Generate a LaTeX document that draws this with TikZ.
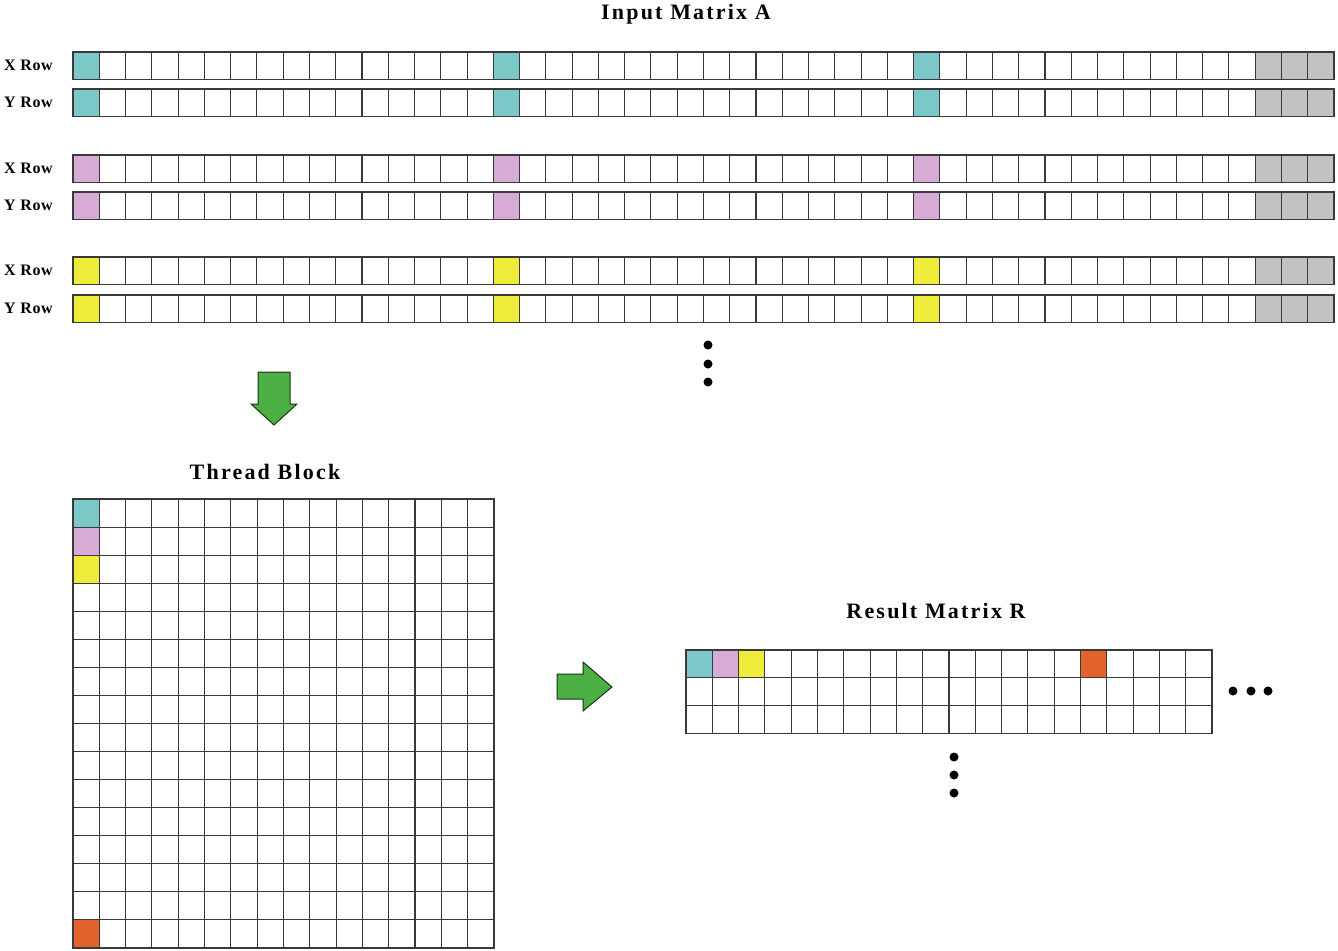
\documentclass[tikz,border=0pt]{standalone}
\usepackage{fontspec}
\setmainfont{Liberation Serif}
\definecolor{cteal}{HTML}{7CC8C8}
\definecolor{cpink}{HTML}{D8AAD6}
\definecolor{cyel}{HTML}{F0EC3C}
\definecolor{cgray}{HTML}{C2C2C4}
\definecolor{corange}{HTML}{E2622C}
\definecolor{cgreen}{HTML}{4CAF44}
\definecolor{cline}{HTML}{3A3A3A}
\tikzset{
  cell/.style={draw=cline, line width=1.1pt},
  title/.style={font=\fontsize{22}{24}\selectfont\bfseries\addfontfeatures{LetterSpace=10}},
  rowlab/.style={font=\fontsize{16}{18}\selectfont\bfseries\addfontfeatures{LetterSpace=4}, anchor=east, inner sep=0pt},
  bigarrow/.style={fill=cgreen, draw=black!70!cgreen, line width=1pt, line join=miter},
  dot/.style={fill=black}
}
\begin{document}
\begin{tikzpicture}[x=1pt,y=-1pt]
\useasboundingbox (0,0) rectangle (1338,950);
% ---- Input matrix rows
\def\cw{26.27}
\foreach \top/\lab/\c in {52/X/cteal,89/Y/cteal,155/X/cpink,192/Y/cpink,257/X/cyel,295/Y/cyel}{
  \foreach \i in {0,...,47}{
    \pgfmathsetmacro{\xa}{73+\i*\cw}
    \pgfmathsetmacro{\xb}{73+(\i+1)*\cw}
    \ifnum\i=0 \def\fc{\c}\else\ifnum\i=16 \def\fc{\c}\else\ifnum\i=32 \def\fc{\c}\else\ifnum\i>44 \def\fc{cgray}\else\def\fc{white}\fi\fi\fi\fi
    \draw[cell, fill=\fc] (\xa,\top) rectangle (\xb,\top+27.5);
  }
  \node[rowlab] at (53,\top+13) {\lab\ Row};
}
\node[title] (tA) at (686,14) {Input Matrix A};
% vertical dots
\fill[dot] (708,345) circle (4.5) (708,364) circle (4.5) (708,382) circle (4.5);
% down arrow
\draw[bigarrow] (258,372) -- (290,372) -- (290,404) -- (297,404) -- (274,425) -- (251,404) -- (258,404) -- cycle;
% ---- Thread block
\node[title] (tB) at (265,472) {Thread Block};
\foreach \r in {0,...,15}{
  \foreach \i in {0,...,15}{
    \pgfmathsetmacro{\xa}{73+\i*26.31}
    \pgfmathsetmacro{\ya}{499+\r*28.06}
    \def\fc{white}
    \ifnum\i=0
      \ifnum\r=0 \def\fc{cteal}\fi
      \ifnum\r=1 \def\fc{cpink}\fi
      \ifnum\r=2 \def\fc{cyel}\fi
      \ifnum\r=15 \def\fc{corange}\fi
    \fi
    \draw[cell, fill=\fc] (\xa,\ya) rectangle ++(26.31,28.06);
  }
}
% right arrow
\draw[bigarrow] (557,674) -- (583,674) -- (583,662) -- (612,687) -- (583,711) -- (583,699) -- (557,699) -- cycle;
% ---- Result matrix
\node[title] (tR) at (936,611) {Result Matrix R};
\foreach \r in {0,...,2}{
  \foreach \i in {0,...,19}{
    \pgfmathsetmacro{\xa}{686+\i*26.3}
    \pgfmathsetmacro{\ya}{650+\r*27.7}
    \def\fc{white}
    \ifnum\r=0
      \ifnum\i=0 \def\fc{cteal}\fi
      \ifnum\i=1 \def\fc{cpink}\fi
      \ifnum\i=2 \def\fc{cyel}\fi
      \ifnum\i=15 \def\fc{corange}\fi
    \fi
    \draw[cell, fill=\fc] (\xa,\ya) rectangle ++(26.3,27.7);
  }
}
\fill[dot] (1233,691) circle (4.5) (1251,691) circle (4.5) (1268,691) circle (4.5);
\fill[dot] (954,757) circle (4.5) (954,775) circle (4.5) (954,793) circle (4.5);
\end{tikzpicture}
\end{document}
